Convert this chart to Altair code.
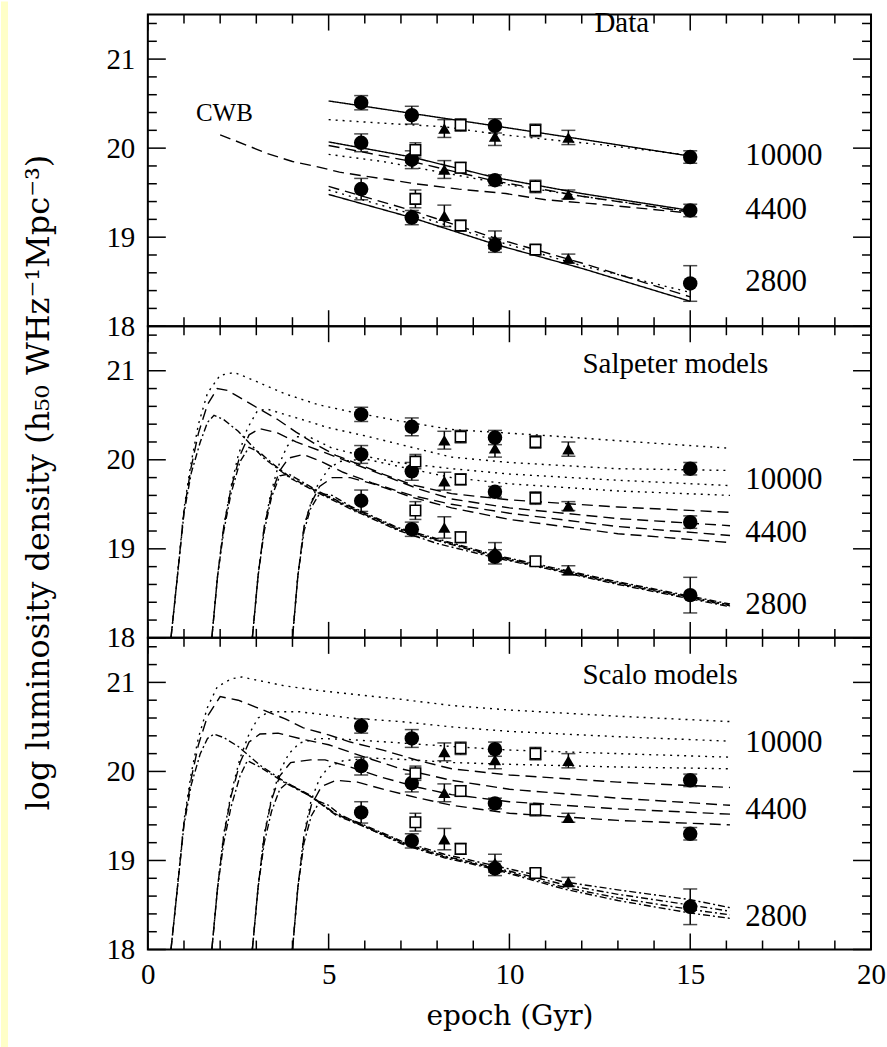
import altair as alt
import pandas as pd

FONT = "Liberation Serif"
TFONT = "DejaVu Serif"
W, H = 724, 312

# ---------------- axis ticks ----------------
X_MAJOR = [0, 5, 10, 15, 20]
X_MINOR = [v for v in range(1, 20) if v % 5]
Y_MAJOR = [18, 19, 20, 21]
Y_MINOR = [round(18 + 0.2 * i, 1) for i in range(1, 18) if i % 5]

# ---------------- data points (same in every panel) ----------------
CIRC_X = [5.9, 7.3, 9.6, 15.0]
CIRC_10000 = [20.51, 20.37, 20.25, 19.90]
CIRC_10000_E = [0.08, 0.10, 0.08, 0.07]
CIRC_4400 = [20.06, 19.87, 19.64, 19.30]
CIRC_4400_E = [0.10, 0.10, 0.06, 0.07]
CIRC_2800 = [19.54, 19.22, 18.91, 18.48]
CIRC_2800_E = [0.12, 0.08, 0.08, 0.20]

TRI_10000_X = [8.2, 9.6, 11.63]
TRI_10000 = [20.22, 20.13, 20.12]
TRI_10000_E = [0.10, 0.10, 0.08]
TRI_4400_X = [8.2, 11.63]
TRI_4400 = [19.76, 19.48]
TRI_4400_E = [0.10, 0.05]
TRI_2800_X = [8.2, 9.6, 11.63]
TRI_2800 = [19.24, 18.97, 18.76]
TRI_2800_E = [0.12, 0.10, 0.05]

SQ_10000_X = [8.65, 10.72]
SQ_10000 = [20.26, 20.20]
SQ_10000_E = [0.07, 0.07]
SQ_4400_X = [7.4, 8.65, 10.72]
SQ_4400 = [19.98, 19.78, 19.57]
SQ_4400_E = [0.08, 0.06, 0.07]
SQ_2800_X = [7.4, 8.65, 10.72]
SQ_2800 = [19.43, 19.13, 18.86]
SQ_2800_E = [0.10, 0.06, 0.05]

# ---------------- top panel (Data) lines ----------------
T10_SOLID = [(5.0, 20.53), (7.3, 20.39), (9.6, 20.25), (12.0, 20.10), (15.0, 19.91)]
T10_DOT = [(5.0, 20.32), (6.5, 20.28), (8.2, 20.24), (9.6, 20.16), (11.0, 20.10), (12.5, 20.04), (15.0, 19.92)]
T44_SOLID = [(5.0, 20.07), (7.3, 19.90), (9.6, 19.67), (12.0, 19.49), (15.0, 19.30)]
T44_DASH = [(5.0, 20.03), (7.3, 19.85), (9.6, 19.63), (12.0, 19.46), (15.0, 19.28)]
T44_DOT = [(5.0, 19.93), (6.5, 19.85), (8.1, 19.73), (10.1, 19.58), (12.0, 19.46), (15.0, 19.29)]
T28_SOLID = [(5.0, 19.48), (7.3, 19.22), (9.6, 18.92), (12.0, 18.65), (15.0, 18.28)]
T28_DASH = [(5.0, 19.57), (7.3, 19.30), (9.6, 18.99), (12.0, 18.71), (15.0, 18.33)]
T28_DOT = [(5.0, 19.53), (7.3, 19.26), (9.6, 18.96), (12.0, 18.68), (15.0, 18.38)]
CWB = [(2.0, 20.15), (2.75, 20.03), (3.3, 19.94), (4.0, 19.85), (4.7, 19.79), (5.3, 19.73),
       (6.1, 19.68), (6.6, 19.65), (7.4, 19.60), (8.6, 19.54), (9.9, 19.49), (11.0, 19.42),
       (12.2, 19.38), (13.5, 19.33), (15.0, 19.27)]

# ---------------- Salpeter models ----------------
S10_A = [(0.64, 18.0), (0.82, 18.7), (1.0, 19.45), (1.19, 19.95), (1.4, 20.4), (1.65, 20.75), (2.0, 20.95),
         (2.4, 20.98), (3.0, 20.88), (3.8, 20.74), (4.7, 20.62), (5.6, 20.54), (6.9, 20.44), (8.4, 20.34),
         (11.1, 20.27), (13.5, 20.2), (16.1, 20.13)]
S10_B = [(1.77, 18.0), (1.93, 18.7), (2.1, 19.25), (2.3, 19.7), (2.5, 20.05), (2.75, 20.35), (3.03, 20.55),
         (3.3, 20.57), (3.7, 20.52), (4.2, 20.46), (5.0, 20.36), (6.0, 20.27), (7.0, 20.17), (8.4, 20.03),
         (10.0, 19.97), (13.0, 19.9), (16.1, 19.88)]
S10_C = [(2.89, 18.0), (3.05, 18.7), (3.22, 19.25), (3.4, 19.62), (3.6, 19.92), (3.85, 20.15), (4.1, 20.26),
         (4.5, 20.25), (5.1, 20.13), (6.0, 20.04), (6.9, 19.97), (8.4, 19.9), (10.0, 19.84), (13.0, 19.77),
         (16.1, 19.71)]
S10_D = [(4.0, 18.0), (4.15, 18.7), (4.32, 19.25), (4.5, 19.5), (4.7, 19.72), (5.0, 19.9), (5.3, 19.98),
         (6.0, 20.01), (7.0, 19.92), (8.4, 19.8), (10.0, 19.73), (13.0, 19.65), (16.1, 19.6)]
S44_A = [(0.64, 18.0), (0.82, 18.7), (1.0, 19.42), (1.19, 19.9), (1.4, 20.3), (1.65, 20.62), (1.92, 20.8),
         (2.2, 20.78), (2.5, 20.71), (3.0, 20.59), (3.6, 20.45), (4.1, 20.31), (4.7, 20.16), (5.2, 20.05),
         (5.9, 19.94), (6.5, 19.84), (7.3, 19.72), (8.4, 19.62), (10.0, 19.55), (13.0, 19.47), (16.1, 19.41)]
S44_B = [(1.77, 18.0), (1.93, 18.7), (2.1, 19.25), (2.3, 19.68), (2.55, 20.05), (2.8, 20.28), (3.1, 20.35),
         (3.6, 20.3), (4.1, 20.2), (4.9, 20.08), (5.6, 19.97), (6.5, 19.83), (7.5, 19.67), (8.4, 19.56),
         (10.0, 19.46), (13.0, 19.34), (16.1, 19.26)]
S44_C = [(2.89, 18.0), (3.05, 18.7), (3.22, 19.25), (3.42, 19.62), (3.65, 19.88), (3.9, 20.02), (4.3, 20.06),
         (4.8, 19.98), (5.4, 19.86), (6.2, 19.74), (7.3, 19.6), (8.4, 19.5), (10.0, 19.4), (13.0, 19.25),
         (16.1, 19.15)]
S44_D = [(4.0, 18.0), (4.15, 18.7), (4.32, 19.25), (4.5, 19.5), (4.75, 19.7), (5.1, 19.8), (5.6, 19.8),
         (6.3, 19.72), (7.3, 19.58), (8.4, 19.46), (10.0, 19.33), (13.0, 19.17), (16.1, 19.07)]
S28_A = [(0.64, 18.0), (0.82, 18.7), (1.0, 19.4), (1.2, 19.85), (1.45, 20.2), (1.65, 20.42), (1.83, 20.5),
         (2.1, 20.45), (2.5, 20.32), (3.2, 20.02), (3.95, 19.79), (4.7, 19.63), (5.6, 19.45), (6.9, 19.21),
         (8.0, 19.06), (9.6, 18.9), (11.0, 18.78), (13.0, 18.6), (16.1, 18.35)]
S28_B = [(1.77, 18.0), (1.93, 18.7), (2.1, 19.2), (2.3, 19.62), (2.55, 19.98), (2.8, 20.14), (3.1, 20.08),
         (3.5, 19.94), (3.95, 19.8), (4.7, 19.64), (5.6, 19.46), (6.9, 19.22), (9.6, 18.91), (13.0, 18.61),
         (16.1, 18.36)]
S28_C = [(2.89, 18.0), (3.05, 18.7), (3.22, 19.2), (3.42, 19.58), (3.65, 19.82), (3.9, 19.84), (4.7, 19.65),
         (5.6, 19.47), (6.9, 19.23), (9.6, 18.92), (13.0, 18.62), (16.1, 18.37)]
S28_D = [(4.0, 18.0), (4.15, 18.7), (4.32, 19.2), (4.5, 19.45), (4.75, 19.62), (5.1, 19.6), (5.6, 19.48),
         (6.9, 19.24), (9.6, 18.93), (13.0, 18.63), (16.1, 18.38)]

# ---------------- Scalo models ----------------
C10_A = [(0.64, 18.0), (0.82, 18.7), (1.0, 19.45), (1.2, 19.98), (1.4, 20.38), (1.65, 20.72), (1.92, 20.95),
         (2.3, 21.04), (2.6, 21.06), (3.2, 21.01), (3.8, 20.96), (4.7, 20.91), (5.6, 20.87), (7.0, 20.81),
         (8.4, 20.74), (10.0, 20.69), (13.0, 20.62), (16.1, 20.56)]
C10_B = [(1.77, 18.0), (1.93, 18.7), (2.1, 19.3), (2.3, 19.75), (2.55, 20.15), (2.8, 20.42), (3.05, 20.6),
         (3.35, 20.67), (4.2, 20.67), (5.6, 20.6), (7.0, 20.56), (8.4, 20.5), (10.0, 20.45), (13.0, 20.39),
         (16.1, 20.34)]
C10_C = [(2.89, 18.0), (3.05, 18.7), (3.22, 19.3), (3.42, 19.7), (3.65, 20.0), (3.9, 20.2), (4.2, 20.32),
         (4.7, 20.37), (5.5, 20.36), (7.0, 20.32), (8.4, 20.28), (10.0, 20.24), (13.0, 20.2), (16.1, 20.16)]
C10_D = [(4.0, 18.0), (4.15, 18.7), (4.32, 19.3), (4.52, 19.68), (4.75, 19.92), (5.0, 20.05), (5.4, 20.12),
         (6.2, 20.15), (7.3, 20.13), (8.4, 20.1), (10.0, 20.08), (13.0, 20.05), (16.1, 20.03)]
C44_A = [(0.64, 18.0), (0.82, 18.7), (1.0, 19.42), (1.2, 19.92), (1.4, 20.3), (1.65, 20.62), (2.0, 20.84),
         (2.5, 20.8), (3.0, 20.72), (3.8, 20.59), (4.3, 20.49), (5.0, 20.41), (5.6, 20.33), (6.5, 20.24),
         (7.5, 20.12), (8.4, 20.03), (10.0, 19.96), (13.0, 19.88), (16.1, 19.82)]
C44_B = [(1.77, 18.0), (1.93, 18.7), (2.1, 19.28), (2.3, 19.72), (2.55, 20.1), (2.8, 20.33), (3.1, 20.42),
         (3.6, 20.43), (4.3, 20.36), (5.0, 20.3), (6.0, 20.16), (7.0, 20.03), (8.4, 19.9), (10.0, 19.8),
         (13.0, 19.7), (16.1, 19.62)]
C44_C = [(2.89, 18.0), (3.05, 18.7), (3.22, 19.28), (3.42, 19.68), (3.65, 19.95), (3.95, 20.1), (4.5, 20.13),
         (4.9, 20.13), (5.6, 20.05), (6.5, 19.93), (7.5, 19.82), (8.4, 19.74), (10.0, 19.66), (13.0, 19.58),
         (16.1, 19.52)]
C44_D = [(4.0, 18.0), (4.15, 18.7), (4.32, 19.28), (4.52, 19.62), (4.8, 19.83), (5.2, 19.9), (5.8, 19.88),
         (6.6, 19.79), (7.5, 19.7), (8.4, 19.62), (10.0, 19.53), (13.0, 19.45), (16.1, 19.4)]
C28_A = [(0.64, 18.0), (0.82, 18.7), (1.0, 19.4), (1.2, 19.85), (1.45, 20.2), (1.65, 20.37), (1.83, 20.42),
         (2.1, 20.38), (2.5, 20.28), (3.1, 20.07), (3.8, 19.88), (4.5, 19.73), (5.2, 19.52), (5.8, 19.43),
         (7.0, 19.22), (8.2, 19.07), (9.5, 18.95), (10.6, 18.85), (11.5, 18.76), (13.0, 18.67), (15.0, 18.56),
         (16.1, 18.47)]
C28_B = [(1.77, 18.0), (1.93, 18.7), (2.1, 19.2), (2.3, 19.6), (2.55, 19.95), (2.75, 20.12), (3.1, 20.05),
         (3.8, 19.87), (4.5, 19.72), (5.2, 19.52), (5.8, 19.42), (7.0, 19.21), (8.2, 19.05), (9.5, 18.93),
         (11.5, 18.73), (13.0, 18.62), (15.0, 18.5), (16.1, 18.43)]
C28_C = [(2.89, 18.0), (3.05, 18.7), (3.22, 19.2), (3.42, 19.55), (3.65, 19.8), (3.85, 19.87), (4.5, 19.72),
         (5.2, 19.51), (5.8, 19.41), (7.0, 19.2), (8.2, 19.04), (9.5, 18.92), (11.5, 18.7), (13.0, 18.58),
         (15.0, 18.45), (16.1, 18.39)]
C28_D = [(4.0, 18.0), (4.15, 18.7), (4.32, 19.2), (4.52, 19.5), (4.75, 19.66), (5.0, 19.62), (5.3, 19.52),
         (5.8, 19.42), (7.0, 19.19), (8.2, 19.03), (9.5, 18.91), (11.5, 18.68), (13.0, 18.55), (15.0, 18.41),
         (16.1, 18.35)]

# ---------------- text annotations: (text, x, y, font size) ----------------
TOP_TEXT = [("Data", 12.35, 21.30, 29), ("CWB", 1.33, 20.31, 25),
            ("10000", 16.52, 19.81, 31), ("4400", 16.52, 19.20, 31), ("2800", 16.52, 18.39, 31)]
MID_TEXT = [("Salpeter models", 12.02, 20.98, 29),
            ("10000", 16.52, 19.67, 31), ("4400", 16.52, 19.08, 31), ("2800", 16.52, 18.27, 31)]
BOT_TEXT = [("Scalo models", 12.02, 20.98, 29),
            ("10000", 16.52, 20.22, 31), ("4400", 16.52, 19.47, 31), ("2800", 16.52, 18.26, 31)]

Y_TITLE = "log luminosity density (h\u2085\u2080 WHz\u207b\u00b9Mpc\u207b\u00b3)"
X_TITLE = "epoch (Gyr)"

DASHES = {"solid": [1, 0], "dot": [2, 5], "dash": [11, 6], "dotdash": [7, 3, 2, 3]}

XS = alt.Scale(domain=[0, 20], nice=False, zero=False)
YS = alt.Scale(domain=[18, 21.5], nice=False, zero=False)


def lines_frame(curves):
    rows = []
    for name, style, pts in curves:
        for x, y in pts:
            rows.append({"curve": name, "style": style, "x": x, "y": y})
    return pd.DataFrame(rows)


def points_frame():
    rows = []
    groups = [
        ("circle", CIRC_X, CIRC_10000, CIRC_10000_E), ("circle", CIRC_X, CIRC_4400, CIRC_4400_E),
        ("circle", CIRC_X, CIRC_2800, CIRC_2800_E),
        ("tri", TRI_10000_X, TRI_10000, TRI_10000_E), ("tri", TRI_4400_X, TRI_4400, TRI_4400_E),
        ("tri", TRI_2800_X, TRI_2800, TRI_2800_E),
        ("sq", SQ_10000_X, SQ_10000, SQ_10000_E), ("sq", SQ_4400_X, SQ_4400, SQ_4400_E),
        ("sq", SQ_2800_X, SQ_2800, SQ_2800_E),
    ]
    for kind, xs, ys, es in groups:
        for x, y, e in zip(xs, ys, es):
            rows.append({"kind": kind, "x": x, "y": y, "ylo": y - e, "yhi": y + e})
    return pd.DataFrame(rows)


PTS = points_frame()


def panel(curves, texts, show_x, show_ytitle, strip=False):
    if show_x:
        xaxis = alt.Axis(values=X_MAJOR, ticks=False, domain=False, grid=False, labelFont=FONT,
                         labelFontSize=29, labelPadding=11, labelFlush=False, labelColor="black",
                         title=X_TITLE, titleFont=TFONT, titleFontSize=28, titleFontWeight="normal",
                         titleColor="black", titlePadding=13, format="d")
    else:
        xaxis = None
    yaxis = alt.Axis(values=Y_MAJOR, ticks=False, domain=False, grid=False, labelFont=FONT,
                     labelFontSize=29, labelPadding=13, labelFlush=False, labelOverlap=False,
                     labelColor="black", format="d",
                     title=Y_TITLE if show_ytitle else None, titleFont=TFONT, titleFontSize=32,
                     titleFontWeight="normal", titleColor="black", titlePadding=50)

    def X(f="x"):
        return alt.X(f"{f}:Q", scale=XS, axis=xaxis)

    def Y(f="y"):
        return alt.Y(f"{f}:Q", scale=YS, axis=yaxis)

    layers = []
    if strip:
        layers.append(alt.Chart(pd.DataFrame({"a": [0]})).mark_rect(color="#FFFFC8").encode(
            x=alt.value(-147), x2=alt.value(-140), y=alt.value(-325), y2=alt.value(722)))

    # inward ticks
    xmaj = pd.DataFrame({"v": X_MAJOR})
    xmin = pd.DataFrame({"v": X_MINOR})
    ymaj = pd.DataFrame({"v": Y_MAJOR})
    ymin = pd.DataFrame({"v": Y_MINOR})
    tk = dict(color="black", strokeWidth=1.5)
    for df, ln in ((xmaj, 16), (xmin, 9)):
        layers.append(alt.Chart(df).mark_rule(**tk).encode(x=X("v"), y=alt.value(0), y2=alt.value(ln)))
        layers.append(alt.Chart(df).mark_rule(**tk).encode(x=X("v"), y=alt.value(H), y2=alt.value(H - ln)))
    for df, ln in ((ymaj, 18), (ymin, 9)):
        layers.append(alt.Chart(df).mark_rule(**tk).encode(y=Y("v"), x=alt.value(0), x2=alt.value(ln)))
        layers.append(alt.Chart(df).mark_rule(**tk).encode(y=Y("v"), x=alt.value(W), x2=alt.value(W - ln)))

    # model / fit lines
    ldf = lines_frame(curves)
    layers.append(alt.Chart(ldf).mark_line(color="black", strokeWidth=1.4, clip=True).encode(
        x=X(), y=Y(), detail="curve:N",
        strokeDash=alt.StrokeDash("style:N", scale=alt.Scale(domain=list(DASHES.keys()),
                                                             range=list(DASHES.values())), legend=None)))

    # error bars
    base = alt.Chart(PTS)
    layers.append(base.mark_rule(color="black", strokeWidth=1.5).encode(x=X(), y=Y("ylo"), y2=alt.Y2("yhi:Q")))
    for kind, cap in (("circle", 14), ("tri", 14), ("sq", 12)):
        sub = alt.Chart(PTS[PTS.kind == kind])
        for f in ("ylo", "yhi"):
            layers.append(sub.mark_tick(orient="horizontal", color="black", size=cap, thickness=1.5).encode(
                x=X(), y=Y(f)))

    # markers
    layers.append(alt.Chart(PTS[PTS.kind == "circle"]).mark_point(
        shape="circle", filled=True, color="black", size=210, opacity=1).encode(x=X(), y=Y()))
    layers.append(alt.Chart(PTS[PTS.kind == "tri"]).mark_point(
        shape="triangle-up", filled=True, color="black", size=150, opacity=1).encode(x=X(), y=Y()))
    layers.append(alt.Chart(PTS[PTS.kind == "sq"]).mark_point(
        shape="square", filled=True, fill="white", stroke="black", strokeWidth=1.6, size=110,
        opacity=1).encode(x=X(), y=Y()))

    # annotations
    tdf = pd.DataFrame([{"t": t, "x": x, "y": y, "s": s} for t, x, y, s in texts])
    layers.append(alt.Chart(tdf).mark_text(font=FONT, align="left", baseline="alphabetic",
                                           color="black").encode(
        x=X(), y=Y(), text="t:N", size=alt.Size("s:Q", scale=None, legend=None)))

    return alt.layer(*layers).properties(width=W, height=H)


top = panel([("t10s", "solid", T10_SOLID), ("t10d", "dot", T10_DOT),
             ("t44s", "solid", T44_SOLID), ("t44a", "dash", T44_DASH), ("t44d", "dot", T44_DOT),
             ("t28s", "solid", T28_SOLID), ("t28a", "dash", T28_DASH), ("t28d", "dot", T28_DOT),
             ("cwb", "dash", CWB)], TOP_TEXT, False, False)

mid = panel([("a1", "dot", S10_A), ("b1", "dot", S10_B), ("c1", "dot", S10_C), ("d1", "dot", S10_D),
             ("a2", "dash", S44_A), ("b2", "dash", S44_B), ("c2", "dash", S44_C), ("d2", "dash", S44_D),
             ("a3", "dotdash", S28_A), ("b3", "dotdash", S28_B), ("c3", "dotdash", S28_C),
             ("d3", "dotdash", S28_D)], MID_TEXT, False, True, strip=True)

bot = panel([("a1", "dot", C10_A), ("b1", "dot", C10_B), ("c1", "dot", C10_C), ("d1", "dot", C10_D),
             ("a2", "dash", C44_A), ("b2", "dash", C44_B), ("c2", "dash", C44_C), ("d2", "dash", C44_D),
             ("a3", "dotdash", C28_A), ("b3", "dotdash", C28_B), ("c3", "dotdash", C28_C),
             ("d3", "dotdash", C28_D)], BOT_TEXT, True, False)

chart = alt.vconcat(top, mid, bot, spacing=0, bounds="flush").properties(
    padding=0, background="white"
).configure_view(stroke="black", strokeWidth=2)

chart.save("out.html", embed_options={"renderer": "svg", "actions": False})
